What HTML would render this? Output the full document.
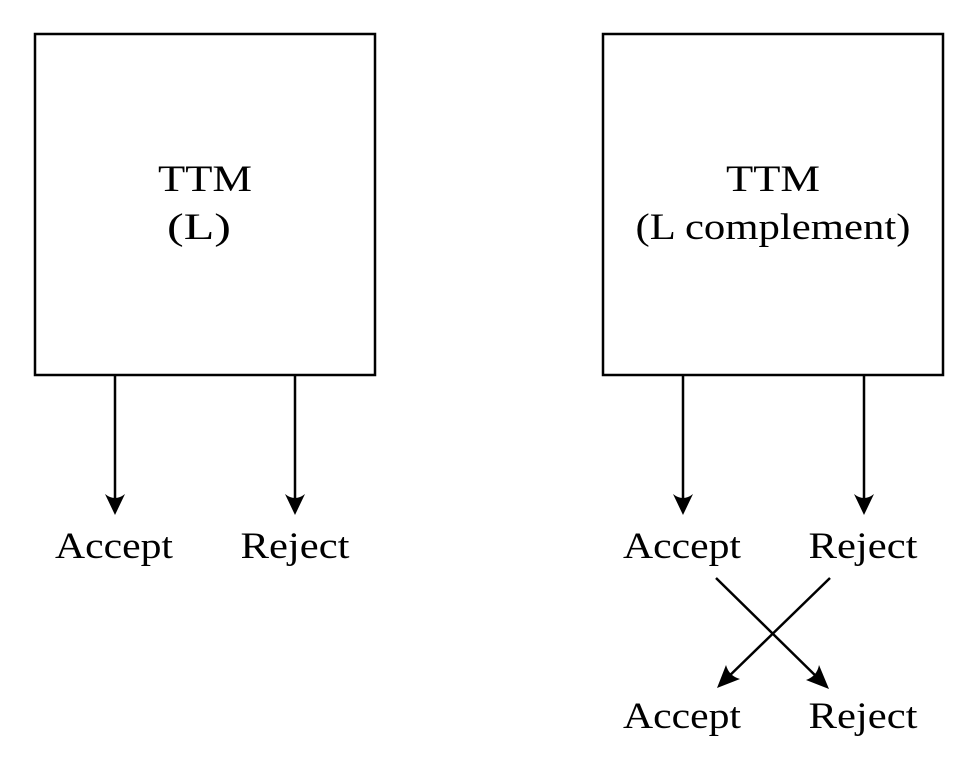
<!DOCTYPE html>
<html><head><style>
html,body{margin:0;padding:0;background:#fff;}
svg{display:block;}
text{font-family:"Liberation Serif",serif;font-size:37px;fill:#000;}
</style></head><body>
<svg width="977" height="780" viewBox="0 0 977 780">
<g fill="none" stroke="#000" stroke-width="2.5">
<rect x="35" y="34" width="340" height="341"/>
<rect x="603" y="34" width="340" height="341"/>
<line x1="115" y1="375" x2="115" y2="510"/>
<line x1="295" y1="375" x2="295" y2="510"/>
<line x1="683" y1="375" x2="683" y2="510"/>
<line x1="864" y1="375" x2="864" y2="510"/>
<line x1="716" y1="578" x2="824" y2="684"/>
<line x1="830" y1="578" x2="722" y2="683"/>
</g>
<g fill="#000">
<path d="M115 515 L105 494 Q115 502 125 494 Z"/>
<path d="M295 515 L285 494 Q295 502 305 494 Z"/>
<path d="M683 515 L673 494 Q683 502 693 494 Z"/>
<path d="M864 515 L854 494 Q864 502 874 494 Z"/>
<path d="M829 689 L806 680 Q817 676 819 665 Z"/>
<path d="M717 688 L726 665 Q729 676 740 679 Z"/>
</g>
<g text-anchor="middle">
<text x="205" y="191" textLength="94" lengthAdjust="spacingAndGlyphs">TTM</text>
<text x="199" y="239" textLength="64" lengthAdjust="spacingAndGlyphs">(L)</text>
<text x="773" y="191" textLength="94" lengthAdjust="spacingAndGlyphs">TTM</text>
<text x="773" y="239" textLength="275" lengthAdjust="spacingAndGlyphs">(L complement)</text>
<text x="114" y="558" textLength="118" lengthAdjust="spacingAndGlyphs">Accept</text>
<text x="295" y="558" textLength="109" lengthAdjust="spacingAndGlyphs">Reject</text>
<text x="682" y="558" textLength="118" lengthAdjust="spacingAndGlyphs">Accept</text>
<text x="863" y="558" textLength="109" lengthAdjust="spacingAndGlyphs">Reject</text>
<text x="682" y="728" textLength="118" lengthAdjust="spacingAndGlyphs">Accept</text>
<text x="863" y="728" textLength="109" lengthAdjust="spacingAndGlyphs">Reject</text>
</g>
</svg>
</body></html>
